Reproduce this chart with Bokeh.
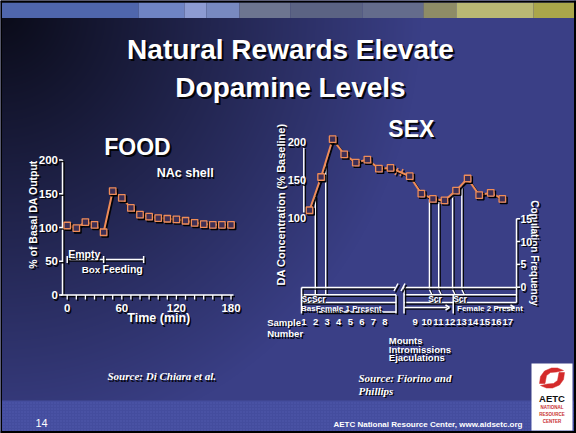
import numpy as np
from bokeh.plotting import figure
from bokeh.models import Range1d
from bokeh.core.properties import value
from bokeh.embed import file_html
from bokeh.resources import INLINE

# ---------------- data ----------------
food_time = [0, 10, 20, 30, 40, 50, 60, 70, 80, 90, 100, 110, 120, 130, 140, 150, 160, 170, 180]
food_da = [103, 99, 108, 104, 93, 154, 144, 129, 119, 116, 114, 113, 112, 110, 107, 105, 104, 104, 104]
food_x_ticks = [0, 60, 120, 180]
food_x_minor = [0, 10, 20, 30, 40, 50, 60, 70, 80, 90, 100, 110, 120, 130, 140, 150, 160, 170, 180]
food_y_ticks = [0, 50, 100, 150, 200]
food_empty_box = [0, 40]
food_feeding = [40, 84]

sex_sample = [1, 2, 3, 4, 5, 6, 7, 8, 9, 10, 11, 12, 13, 14, 15, 16, 17]
sex_da = [110, 154, 204, 184, 173, 177, 165, 166, 155, 132, 125, 123, 136, 152, 130, 133, 125]
sex_y_ticks = [100, 150, 200]
cop_y_ticks = [0, 5, 10, 15]
scr_events = [1.5, 2.4, 10.7, 11.5, 12.7, 13.5]

# ---------------- layout constants ----------------
L, R, T, B = 0, 576, 0, 433          # slide pixels shown by the figure
FX0, FXK = 66.7, 0.91                # FOOD: px of t=0, px per minute
FY0, FYK = 294.5, 0.675              # FOOD: px of 0 %, px per %
SX1, SXK = 309.0, 11.57              # SEX: px of sample 1, px per sample
SGAP = 0.665                         # axis break between samples 8 and 9
SY100, SYK = 217.3, 0.756            # SEX: px of 100 %, px per %
CY0, CYK = 286.7, 4.56               # copulation axis: px of 0, px per unit
SH = 1.5                             # drop-shadow offset
ORANGE = "#ef8c58"
FONT = "Liberation Sans"


def xr(a_px, a_val, k, shift=0.0):
    return Range1d(start=a_val + (L - a_px - shift) / k, end=a_val + (R - a_px - shift) / k)


def yr(a_px, a_val, k, shift=0.0):
    return Range1d(start=a_val + (a_px + shift - B) / k, end=a_val + (a_px + shift - T) / k)


p = figure(width=R - L, height=B - T, x_range=xr(0, 0, 1), y_range=yr(0, 0, -1),
           x_axis_type=None, y_axis_type=None, toolbar_location=None,
           output_backend="svg", min_border=0)
p.outline_line_color = None
p.background_fill_color = "#2c3068"
p.border_fill_color = "#2c3068"

p.extra_x_ranges = {
    "pix_xs": xr(0, 0, 1, SH),
    "fx": xr(FX0, 0, FXK), "fx_s": xr(FX0, 0, FXK, SH),
    "sx": xr(SX1, 1, SXK), "sx_s": xr(SX1, 1, SXK, SH),
}
p.extra_y_ranges = {
    "pix_ys": yr(0, 0, -1, SH),
    "pyu": Range1d(-B, -T),
    "fy": yr(FY0, 0, FYK), "fy_s": yr(FY0, 0, FYK, SH),
    "sy": yr(SY100, 100, SYK), "sy_s": yr(SY100, 100, SYK, SH),
    "cy": yr(CY0, 0, CYK), "cy_s": yr(CY0, 0, CYK, SH),
}
SYS = {
    "pix": ("default", "default", "pix_xs", "pix_ys"),
    "food": ("fx", "fy", "fx_s", "fy_s"),
    "sex": ("sx", "sy", "sx_s", "sy_s"),
    "cop": ("sx", "cy", "sx_s", "cy_s"),
}


def f_t(px): return (px - FX0) / FXK
def f_v(py): return (FY0 - py) / FYK
def s_x(px): return 1 + (px - SX1) / SXK
def s_v(py): return 100 + (SY100 - py) / SYK


def bcast(*cols):
    cols = [list(c) if isinstance(c, (list, tuple, np.ndarray)) else [c] for c in cols]
    n = max(len(c) for c in cols)
    return [c * n if len(c) == 1 else c for c in cols]


def stext(x, y, txt, size, sysname="pix", align="left", baseline="middle", angle=0.0,
          style="bold", font=FONT, color="white", shadow=SH, x_offset=0):
    xn, yn, _, _ = SYS[sysname]
    xs, ys, ts = bcast(x, y, txt)
    kw = dict(x_range_name=xn, y_range_name=yn, text_font=value(font),
              text_font_size=f"{size}px", text_font_style=style, text_align=align,
              text_baseline=baseline, angle=angle)
    if shadow:
        p.text(x=xs, y=ys, text=ts, text_color="black", text_alpha=0.9,
               x_offset=x_offset + shadow, y_offset=shadow, **kw)
    p.text(x=xs, y=ys, text=ts, text_color=color, x_offset=x_offset, **kw)


def sseg(x0, y0, x1, y1, sysname="pix", color="white", width=1.5, shadow=True):
    xn, yn, xs_, ys_ = SYS[sysname]
    a, b, c, d = bcast(x0, y0, x1, y1)
    if shadow:
        p.segment(x0=a, y0=b, x1=c, y1=d, x_range_name=xs_, y_range_name=ys_,
                  line_color="black", line_width=width, line_alpha=0.9)
    p.segment(x0=a, y0=b, x1=c, y1=d, x_range_name=xn, y_range_name=yn,
              line_color=color, line_width=width)


# ---------------- background ----------------
Wd, Hd = R - L, B - T
gx = np.arange(Wd) + L + 0.5
gy = B - np.arange(Hd) - 0.5
X, Y = np.meshgrid(gx, gy)
tt = np.clip(np.sqrt((X / 420.0) ** 2 + ((Y - 10) / 440.0) ** 2), 0, 1)
dark = np.array([10, 11, 24], dtype=float)
blue = np.array([58, 63, 134], dtype=float)
rgb = dark + (blue - dark) * tt[..., None]
band = Y >= 400
dots = ((X.astype(int) % 3) == 0) & ((Y.astype(int) % 3) == 0)
rgb[band] = [68, 77, 158]
rgb[band & dots] = [88, 98, 182]
img = np.empty((Hd, Wd), dtype=np.uint32)
view = img.view(dtype=np.uint8).reshape((Hd, Wd, 4))
view[..., :3] = rgb.astype(np.uint8)
view[..., 3] = 255
p.image_rgba(image=[img], x=L, y=-B, dw=Wd, dh=Hd, y_range_name="pyu")

# top photo strip
strip = [(0, 138, "#4f66ac"), (138, 184, "#6f84c4"), (184, 206, "#8d9bd2"), (206, 239, "#7889c0"),
         (239, 290, "#6d7590"), (290, 362, "#5b6383"), (362, 423, "#646c8c"), (423, 456, "#8e8c66"),
         (456, 533, "#b9b874"), (533, 576, "#aaa64a")]
p.quad(left=[s[0] for s in strip], right=[s[1] for s in strip], top=[2] * len(strip),
       bottom=[17.5] * len(strip), fill_color=[s[2] for s in strip], line_color=None)

# ---------------- title ----------------
stext(290, 48.7, "Natural Rewards Elevate", 28, align="center", shadow=2)
stext(290, 86.8, "Dopamine Levels", 28, align="center", shadow=2)

# ---------------- FOOD chart ----------------
stext(137, 146.7, "FOOD", 23, align="center", shadow=2)
stext(184.7, 172.8, "NAc shell", 12.5, align="center")
sseg(f_t(62), 0, f_t(62), 200, "food")
sseg(f_t(58.5), food_y_ticks, f_t(62), food_y_ticks, "food")
stext(f_t(57.5), food_y_ticks, [str(v) for v in food_y_ticks], 11.5, "food", align="right")
sseg(f_t(60), 0, f_t(233), 0, "food")
sseg(food_x_minor, 0, food_x_minor, f_v(299), "food", width=1.3)
stext(food_x_ticks, f_v(307.5), [str(v) for v in food_x_ticks], 11.5, "food", align="center")
stext(158.3, 317.8, "Time (min)", 12.5, align="center")
stext(32.5, 214, "% of Basal DA Output", 10.5, align="center", angle=np.pi / 2)
yb = f_v(259)
sseg(food_empty_box[0], yb, food_feeding[1], yb, "food")
ends = sorted(set(food_empty_box + food_feeding))
sseg(ends, f_v(255.5), ends, f_v(262.5), "food")
stext(67.7, 253.5, "Empty", 10.5)
stext(90.5, 268.5, "Box", 9.8, align="center")
stext(102, 268, "Feeding", 10.5)
p.line(food_time, food_da, x_range_name="fx_s", y_range_name="fy_s", line_color="black", line_width=2, line_alpha=0.9)
p.line(food_time, food_da, x_range_name="fx", y_range_name="fy", line_color=ORANGE, line_width=2)
p.scatter(food_time, food_da, x_range_name="fx_s", y_range_name="fy_s", marker="square", size=6.5,
          fill_color=None, line_color="black", line_width=1.4)
p.scatter(food_time, food_da, x_range_name="fx", y_range_name="fy", marker="square", size=6.5,
          fill_color="#3e2f55", line_color=ORANGE, line_width=1.3)

# ---------------- SEX chart ----------------
sex_x = [s + SGAP if s > 8.5 else s for s in sex_sample]
stext(410.8, 128.3, "SEX", 23, align="center", shadow=2)
stext(280, 204, "DA Concentration (% Baseline)", 11, align="center", angle=np.pi / 2)
stext(534, 252.5, "Copulation Frequency", 10, align="center", angle=-np.pi / 2)
sseg(s_x(303.3), 193, s_x(303.3), 107, "sex")
stext(s_x(305.5), sex_y_ticks, [str(v) for v in sex_y_ticks], 11, "sex", align="right")
cx = s_x(516)
sseg(cx, 0, cx, 15, "cop")
sseg(cx, cop_y_ticks, s_x(519.5), cop_y_ticks, "cop")
stext(s_x(520), cop_y_ticks, [str(v) for v in cop_y_ticks], 10.5, "cop")

ev_x = [s + SGAP if s > 8.5 else s for s in scr_events]
ev_top = [float(np.interp(x, sex_x, sex_da)) - 3 for x in ev_x]
sseg(ev_x, ev_top, ev_x, s_v(289), "sex", width=1.4)
sseg(ev_x, s_v(289), [x + (2.5 / SXK if x > 8.5 else 0) for x in ev_x], s_v(294.3), "sex", width=1.4)

sseg([301, 402.7], 287, [394.5, 516], 287)
sseg([301, 403.5], 294.3, [395.5, 516], 294.3)
sseg([301, 403.5], 302, [395.5, 516], 302)
sseg(316, 311.5, 395.5, 311.5)
sseg([301, 395.5, 403.5, 452.7, 516], [287, 294.3, 287, 294.3, 287],
     [301, 395.5, 403.5, 452.7, 516], [313, 313, 313, 313, 302])
sseg([393.5, 400.5], 290.5, [397.5, 404.5], 283)
sseg([404, 496], 307, [449, 514], 307)
sseg([449, 449, 514, 514], 307, [445, 445, 510, 510], [304.5, 309.5, 304.5, 309.5])
stext(301, 298, "ScScr", 8.5)
stext(300.5, 308.3, "BasFemale 1 Present", 8)
stext([427.7, 452.7], 298, ["Scr", "Scr"], 8.5)
stext(456.5, 308.3, "Female 2 Present", 8)

sseg([394.5, 399.5], [174.5, 175.5], [397.5, 402.5], [167.5, 168.5], color=ORANGE, width=1.5)
p.line(sex_x, sex_da, x_range_name="sx_s", y_range_name="sy_s", line_color="black", line_width=2, line_alpha=0.9)
p.line(sex_x, sex_da, x_range_name="sx", y_range_name="sy", line_color=ORANGE, line_width=2)
p.scatter(sex_x, sex_da, x_range_name="sx_s", y_range_name="sy_s", marker="square", size=6.5,
          fill_color=None, line_color="black", line_width=1.4)
p.scatter(sex_x, sex_da, x_range_name="sx", y_range_name="sy", marker="square", size=6.5,
          fill_color="#3e2f55", line_color=ORANGE, line_width=1.3)

stext(266.7, 321.7, "Sample", 9.5)
stext(266.7, 333.3, "Number", 9.5)
left_x = [x for x in sex_x if x < 8.5]
right_x = [x for x in sex_x if x > 8.5]
stext(left_x, s_v(321.7), [str(s) for s in sex_sample if s <= 8], 9.5, "sex", align="center", x_offset=-5.5)
stext(right_x, s_v(321.7), [str(s) for s in sex_sample if s > 8], 9.5, "sex", align="center", x_offset=5.5)
stext(388.3, 340, "Mounts", 9.5)
stext(388.3, 349, "Intromissions", 9.5)
stext(388.3, 356.5, "Ejaculations", 9.5)

# ---------------- sources & footer ----------------
stext(107, 375.5, "Source: Di Chiara et al.", 11, style="bold italic", font="Liberation Serif")
stext(358, 377, "Source: Fiorino and", 11, style="bold italic", font="Liberation Serif")
stext(358, 390, "Phillips", 11, style="bold italic", font="Liberation Serif")
stext(35, 422.5, "14", 11, style="normal", shadow=0)
stext(522, 423.5, "AETC National Resource Center, www.aidsetc.org", 8, align="right", shadow=0)

# slide border
p.quad(left=[0, 0, 573.5, 0], right=[576, 1.5, 576, 576], top=[0, 0, 0, 430.5],
       bottom=[2, 433, 433, 433], fill_color="black", line_color=None)

# logo
p.quad(left=[531], right=[572], top=[363], bottom=[430], fill_color="white", line_color=None)
up_x = [539, 540, 544, 551, 557, 563, 556, 550, 546, 544.5]
up_y = [383, 376, 370.5, 367.5, 367.5, 370, 371.5, 372, 375, 383]
lo_x = [1103 - v for v in up_x]
lo_y = [755 - v for v in up_y]
p.patches(xs=[up_x, lo_x], ys=[up_y, lo_y], fill_color="#d42b2b", line_color="#d42b2b", line_width=0.5)
stext(551.5, 398.3, "AETC", 9.5, align="center", color="#111111", shadow=0)
stext(551.5, [407.3, 414, 421], ["NATIONAL", "RESOURCE", "CENTER"], 4.5, align="center",
      color="#c83030", shadow=0)

open("out.html", "w").write(file_html(p, INLINE))
